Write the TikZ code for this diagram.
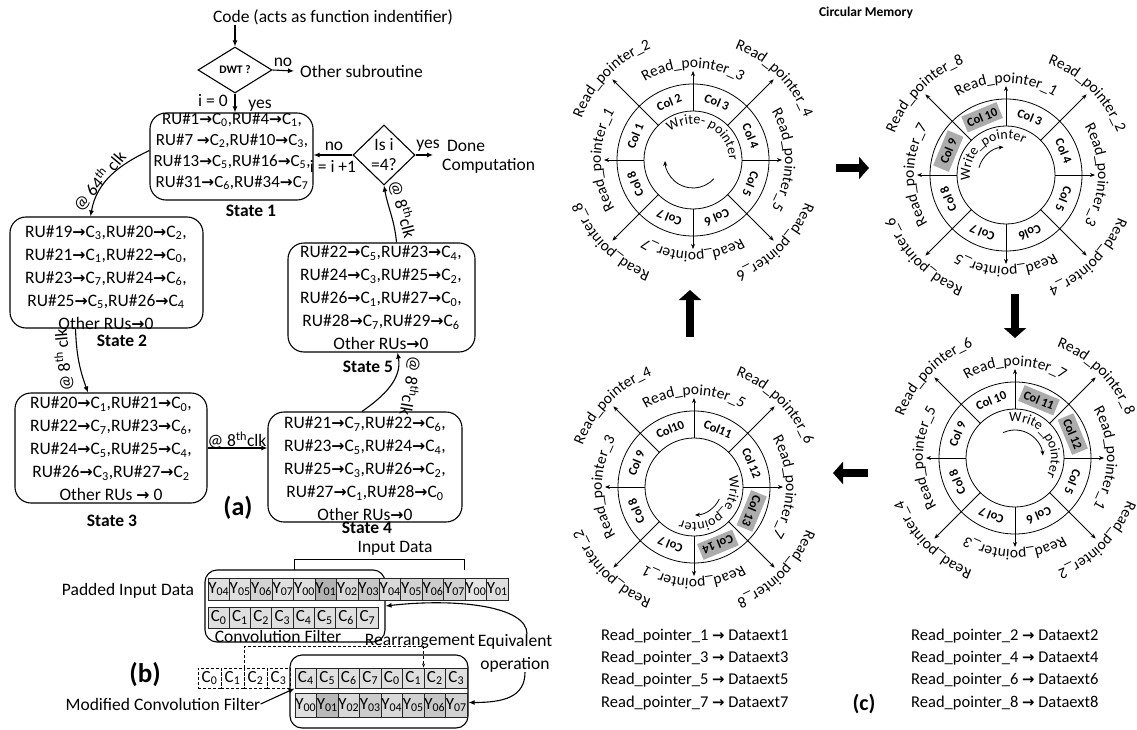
\documentclass[tikz,border=0pt]{standalone}
\usepackage{fontspec}
\setmainfont{Carlito}
\newfontfamily\arrowfont{DejaVu Sans}[Scale=0.9]
\usetikzlibrary{shapes.geometric,arrows.meta,decorations.text,calc}
\newcommand{\myra}{{\arrowfont\bfseries\char"2192}}
\newcommand{\Cx}[1]{C\textsubscript{#1}}
\newcommand{\Yx}[1]{Y\textsubscript{#1}}
\newcommand{\fmain}{\fontsize{17.5}{23}\selectfont}
\newcommand{\rpfont}{\fontsize{15.5}{15.5}\selectfont}
\newcommand{\wpfont}{\fontsize{14}{14}\selectfont}
\tikzset{
 ln/.style={line width=1.1pt},
 arr/.style={line width=1.1pt, -{Latex[length=6pt,width=5pt]}},
 sbox/.style={draw, line width=1.1pt, rounded corners=16pt, inner sep=0},
 stxt/.style={font=\fmain, align=center, inner sep=0},
 stl/.style={font=\fontsize{17.5}{20}\selectfont\bfseries, inner sep=0},
 lbl/.style={font=\fmain, inner sep=0},
 dmd/.style={diamond, draw, line width=1.1pt, inner sep=0},
 ring/.style={line width=0.8pt},
 rptr/.style={line width=0.8pt, -{Stealth[length=5pt,width=4pt]}},
 wptr/.style={line width=0.8pt, -{Stealth[length=5pt,width=4pt]}},
 colcell/.style={font=\fontsize{12.5}{12.5}\selectfont\bfseries, inner sep=0, minimum width=38, minimum height=17},
 ycell/.style={draw=black!85, line width=0.9pt, minimum width=21.43, minimum height=22, inner sep=0, font=\fontsize{17}{17}\selectfont},
 ccell/.style={draw=black!85, line width=0.9pt, fill=gray!25, minimum width=21.25, minimum height=21, inner sep=0, font=\fontsize{17}{17}\selectfont},
 dcell/.style={draw, densely dashed, line width=0.9pt, minimum width=23, minimum height=20, inner sep=0, font=\fontsize{17}{17}\selectfont},
 bigarr/.style={line width=8pt, -{Triangle[length=10pt,width=22pt]}},
 btxt/.style={font=\fontsize{16.5}{18}\selectfont, anchor=west, inner sep=0},
}
% #1 shift, #2 prefix, #3 angle of pointer 1, #4 cols, #5 write text, #6/#7 text arc, #8/#9 arrow arc
\newcommand{\memring}[9]{%
 \begin{scope}[shift={#1}]
  \draw[ring] (0,0) circle[radius=76];
  \draw[ring] (0,0) circle[radius=49];
  \foreach \a in {0,90,180,270} \draw[rptr] (\a:49) -- (\a:89);
  \foreach \a in {45,135,225,315} \draw[rptr] (\a:49) -- (\a:114);
  \foreach \t/\f [count=\i] in {#4} {
    \pgfmathsetmacro\myca{157.5-45*(\i-1)}
    \node[colcell, fill=\f, rotate=\myca-90] (#2c\i) at (\myca:62.5) {\t};
  }
  \foreach \k in {1,...,8} {
    \pgfmathsetmacro\myang{#3-45*(\k-1)}
    \pgfmathsetmacro\myrad{isodd(\k) ? 92 : (sin(\myang) > 0 ? 119 : 120)}
    \pgfmathsetmacro\myhs{isodd(\k) ? 45 : 36}
    \path[decorate, decoration={text along path, text align=center, text={|\rpfont|Read{\_}pointer{\_}\k}}] (\myang+\myhs:\myrad) arc[start angle=\myang+\myhs, end angle=\myang-\myhs, radius=\myrad];
  }
  \path[decorate, decoration={text along path, text align=center, text={|\wpfont|#5}}] (#6:36) arc[start angle=#6, end angle=#7, radius=36];
  \draw[wptr] (#8:28) arc[start angle=#8, end angle=#9, radius=28];
 \end{scope}}
\begin{document}
\begin{tikzpicture}[x=1pt,y=1pt]
\useasboundingbox (0,0) rectangle (1137,-730);
\fill[white] (0,0) rectangle (1137,-730);

% ---------------- (a) ----------------
\node[lbl] (code) at (333,-17) {Code (acts as function indentifier)};
\node[dmd, minimum width=74, minimum height=46] (dwt) at (235,-70) {};
\node[font=\fontsize{11.5}{12}\selectfont\bfseries, inner sep=0] (dwtt) at (dwt.center) {DWT ?};
\draw[arr] (code.south -| dwt.north) -- (dwt.north);
\node[lbl, anchor=west] (oth) at (300,-71) {Other subroutine};
\draw[arr] (dwt.east) -- ($(oth.west)+(-6,0)$);
\node[lbl] (dno) at (283,-62) {no};
\node[lbl] (i0) at (213,-101) {i = 0};
\node[lbl] (dyes) at (260,-106) {yes};

\node[sbox, minimum width=163, minimum height=87] (s1) at (231.5,-156.5) {};
\node[stxt, font=\fontsize{17}{21}\selectfont] (s1t) at (232,-151.5) {RU\#1\myra\Cx{0},RU\#4\myra\Cx{1},\\RU\#7 \myra\Cx{2},RU\#10\myra\Cx{3},\\RU\#13\myra\Cx{5},RU\#16\myra\Cx{5},\\RU\#31\myra\Cx{6},RU\#34\myra\Cx{7}};
\node[stl] (s1l) at (251,-211) {State 1};
\draw[arr] (dwt.south) -- (dwt.south |- s1.north);

\node[dmd, minimum width=62, minimum height=60] (isi) at (384,-155) {};
\node[lbl, align=center, font=\fontsize{17.5}{20}\selectfont] (isit) at (isi.center) {Is i\\=4?};
\draw[arr] (isi.west) -- (isi.west -| s1.east);
\node[lbl] (ino) at (334,-146) {no};
\node[lbl] (iinc) at (333,-166) {i = i +1};
\coordinate (yesend) at (433,-155);
\draw[arr] (isi.east) -- (yesend);
\node[lbl] (iyes) at (428,-146) {yes};
\node[lbl, anchor=west] (done1) at (447,-146) {Done};
\node[lbl, anchor=west] (done2) at (442,-166) {Computation};

\node[sbox, minimum width=193, minimum height=111] (s2) at (106.5,-272.5) {};
\node[stxt] (s2t) at (106,-277.5) {RU\#19\myra\Cx{3},RU\#20\myra\Cx{2},\\RU\#21\myra\Cx{1},RU\#22\myra\Cx{0},\\RU\#23\myra\Cx{7},RU\#24\myra\Cx{6},\\RU\#25\myra\Cx{5},RU\#26\myra\Cx{4}\\Other RUs\myra0};
\node[stl] (s2l) at (122,-341) {State 2};

\node[sbox, minimum width=192, minimum height=110] (s3) at (111,-448) {};
\node[stxt] (s3t) at (111,-449) {RU\#20\myra\Cx{1},RU\#21\myra\Cx{0},\\RU\#22\myra\Cx{7},RU\#23\myra\Cx{6},\\RU\#24\myra\Cx{5},RU\#25\myra\Cx{4},\\RU\#26\myra\Cx{3},RU\#27\myra\Cx{2}\\Other RUs \myra{} 0};
\node[stl] (s3l) at (112,-521) {State 3};

\node[sbox, minimum width=194, minimum height=110] (s4) at (365,-467) {};
\node[stxt] (s4t) at (365,-469) {RU\#21\myra\Cx{7},RU\#22\myra\Cx{6},\\RU\#23\myra\Cx{5},RU\#24\myra\Cx{4},\\RU\#25\myra\Cx{3},RU\#26\myra\Cx{2},\\RU\#27\myra\Cx{1},RU\#28\myra\Cx{0}\\Other RUs\myra0};
\node[stl] (s4l) at (367,-528) {State 4};

\node[sbox, minimum width=187, minimum height=109] (s5) at (381.5,-297.5) {};
\node[stxt] (s5t) at (381,-298) {RU\#22\myra\Cx{5},RU\#23\myra\Cx{4},\\RU\#24\myra\Cx{3},RU\#25\myra\Cx{2},\\RU\#26\myra\Cx{1},RU\#27\myra\Cx{0},\\RU\#28\myra\Cx{7},RU\#29\myra\Cx{6}\\Other RUs\myra0};
\node[stl] (s5l) at (368,-367) {State 5};

\draw[arr] ($(s1.west)+(0,6)$) to[out=205, in=80] ($(s2.north)+(-16,0)$);
\node[lbl, rotate=50] (l1) at (99,-181) {@ 64\textsuperscript{th} clk};
\draw[arr] ($(s2.south)+(-31,0)$) to[out=-88, in=110] ($(s3.north)+(-23,0)$);
\node[lbl, rotate=95] (l2) at (63,-360) {@ 8\textsuperscript{th} clk};
\draw[arr] (s3.east) -- (s3.east -| s4.west);
\node[lbl] (l3) at (237,-440) {@ 8\textsuperscript{th}clk};
\draw[arr] ($(s4.north)+(-3,0)$) to[out=35, in=-80] ($(s5.south)+(16,0)$);
\node[lbl, rotate=-100] (l4) at (411,-386) {@ 8\textsuperscript{th}clk};
\draw[arr] ($(s5.north)+(15,0)$) to[out=95, in=-80] (isi.south);
\node[lbl, rotate=-75] (l5) at (403,-209) {@ 8\textsuperscript{th}clk};
\node[font=\fontsize{26}{30}\selectfont\bfseries, inner sep=0] (la) at (238,-508) {(a)};

% ---------------- (b) ----------------
\node[lbl] (ind) at (395,-548) {Input Data};
\node[sbox, rounded corners=12pt, minimum width=180, minimum height=72] (cfbox) at (295,-606) {};
\foreach \lab/\sh [count=\i] in {04/25,05/25,06/35,07/25,00/25,01/60,02/30,03/45,04/30,05/35,06/40,07/35,00/20,01/25}
  \node[ycell, fill=gray!\sh] (ty\i) at ({208+21.43*(\i-0.5)},-589) {\Yx{\lab}};
\foreach \i in {0,...,7}
  \node[ccell] (tc\i) at ({208+21.25*(\i+0.5)},-617.5) {\Cx{\i}};
\draw[ln] ($(ty5.north west)+(1,8)$) -- ++(0,10) -| ($(ty13.north west)+(0,8)$);
\node[lbl] (pad) at (128,-591) {Padded Input Data};
\node[lbl] (cfl) at (278,-636) {Convolution Filter};
\node[lbl] (rea) at (420,-641) {Rearrangement};
\node[lbl, align=center, font=\fontsize{17.5}{23}\selectfont] (eq) at (515,-653) {Equivalent\\operation};
\node[font=\fontsize{27}{30}\selectfont\bfseries, inner sep=0] (lb) at (145,-675) {(b)};

\node[sbox, rounded corners=12pt, minimum width=178, minimum height=73] (bbox) at (379,-691.5) {};
\foreach \lab [count=\i from 0] in {4,5,6,7,0,1,2,3}
  \node[ccell, minimum width=21.5, minimum height=20] (bc\i) at ({295+21.5*(\i+0.5)},-678) {\Cx{\lab}};
\foreach \sh [count=\i from 0] in {25,55,30,40,30,35,45,35}
  \node[ycell, minimum width=21.5, minimum height=24, fill=gray!\sh] (by\i) at ({295+21.5*(\i+0.5)},-705) {\Yx{0\i}};
\foreach \i in {0,...,3}
  \node[dcell] (dc\i) at ({198+23*(\i+0.5)},-678) {\Cx{\i}};
\draw[densely dashed, line width=0.9pt, -{Stealth[length=4pt]}] (dc1.north east) -- ++(0,21) -| (bc6.north west);
\node[lbl] (mcf) at (163,-704) {Modified Convolution Filter};
\draw[arr] (mcf.east) -- (bc0.south west);
\draw[arr] ($(eq.north)+(12,0)$) .. controls +(0,28) and +(70,8) .. (cfbox.east);
\draw[arr] ($(eq.south)+(10,0)$) .. controls +(0,-25) and +(35,0) .. ($(bbox.east)+(0,-11)$);

% ---------------- (c) ----------------
\node[font=\fontsize{13.5}{14}\selectfont\bfseries, inner sep=0] (cm) at (866,-13) {Circular Memory};
\memring{(693,-160)}{ma}{180}{Col 1/none,Col 2/none,Col 3/none,Col 4/none,Col 5/none,Col 6/none,Col 7/none,Col 8/none}{Write- pointer}{168}{-38}{-42}{-178}
\memring{(1006,-175)}{mb}{90}{Col 9/gray!65,Col 10/gray!65,Col 3/none,Col 4/none,Col 5/none,Col6/none,Col 7/none,Col 8/none}{Write{\_}pointer}{215}{35}{165}{95}
\memring{(1015,-458)}{mc}{0}{Col 9/none,Col 10/none,Col 11/gray!65,Col 12/gray!65,Col 5/none,Col 6/none,Col 7/none,Col 8/none}{Write{\_}pointer}{125}{-55}{115}{5}
\memring{(694,-487)}{md}{-90}{Col 9/none,Col10/none,Col11/none,Col 12/none,Col 13/gray!65,Col 14/gray!65,Col 7/none,Col 8/none}{Write{\_}pointer}{45}{-140}{-25}{-88}

\coordinate (ra1) at (836,-168); \coordinate (ra2) at (869,-168);
\draw[bigarr] (ra1) -- (ra2);
\coordinate (da1) at (1015,-294); \coordinate (da2) at (1015,-338);
\draw[bigarr] (da1) -- (da2);
\coordinate (la1) at (868,-473); \coordinate (la2) at (833,-473);
\draw[bigarr] (la1) -- (la2);
\coordinate (ua1) at (690,-337); \coordinate (ua2) at (690,-290);
\draw[bigarr] (ua1) -- (ua2);

\node[btxt] (b1) at (601,-636) {Read\_pointer\_1 \myra{} Dataext1};
\node[btxt] (b3) at (601,-658) {Read\_pointer\_3 \myra{} Dataext3};
\node[btxt] (b5) at (601,-680) {Read\_pointer\_5 \myra{} Dataext5};
\node[btxt] (b7) at (601,-703) {Read\_pointer\_7 \myra{} Dataext7};
\node[btxt] (b2) at (911,-636) {Read\_pointer\_2 \myra{} Dataext2};
\node[btxt] (b4) at (911,-658) {Read\_pointer\_4 \myra{} Dataext4};
\node[btxt] (b6) at (911,-680) {Read\_pointer\_6 \myra{} Dataext6};
\node[btxt] (b8) at (911,-703) {Read\_pointer\_8 \myra{} Dataext8};
\node[font=\fontsize{22}{26}\selectfont\bfseries, inner sep=0] (lc) at (864,-704) {(c)};
\end{tikzpicture}
\end{document}
